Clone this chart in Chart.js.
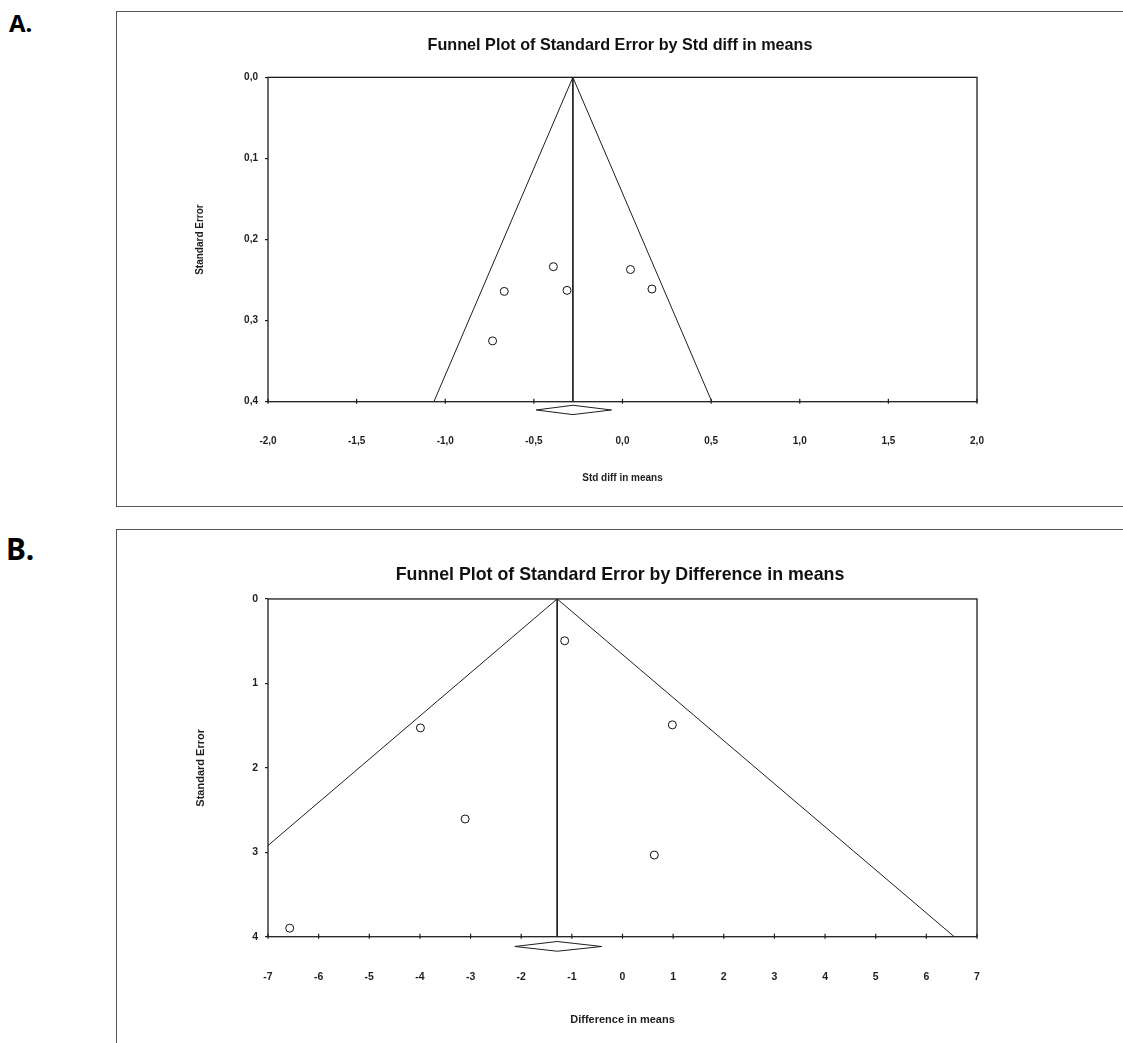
<!DOCTYPE html>
<html><head><meta charset="utf-8">
<script src="https://cdn.jsdelivr.net/npm/chart.js@4.4.1/dist/chart.umd.min.js"></script>
<style>
html,body{margin:0;padding:0;background:#fff;overflow:hidden;width:1123px;height:1043px;}
.lbl{position:absolute;font-family:"Noto Sans","Open Sans",sans-serif;font-weight:700;color:#000;line-height:1;}
.box{position:absolute;border:1px solid #555;box-sizing:content-box;}
canvas{position:absolute;}
</style></head><body>
<div class="lbl" style="left:9px;top:11px;font-size:24px">A.</div>
<div class="lbl" style="left:6px;top:534px;font-size:30px">B.</div>
<div class="box" style="left:116px;top:11px;width:1100px;height:494px;"></div>
<div class="box" style="left:116px;top:529px;width:1100px;height:600px;"></div>
<canvas id="ca" width="1006" height="494" style="left:117px;top:12px;width:1006px;height:494px"></canvas>
<canvas id="cb" width="1006" height="513" style="left:117px;top:530px;width:1006px;height:513px"></canvas>
<script>
// ---------- Panel A data ----------
const titleA = "Funnel Plot of Standard Error by Std diff in means";
const xTitleA = "Std diff in means";
const yTitleA = "Standard Error";
const xTickLabelsA = ["-2,0","-1,5","-1,0","-0,5","0,0","0,5","1,0","1,5","2,0"];
const yTickLabelsA = ["0,0","0,1","0,2","0,3","0,4"];
const studyEffectA = [-0.39, -0.667, -0.313, -0.733, 0.045, 0.166];
const studySEA     = [0.2335, 0.264, 0.2627, 0.325, 0.237, 0.261];
const summaryA = -0.28;
const funnelXA = [-1.064, -0.28, 0.504];
const funnelYA = [0.4, 0, 0.4];
const diamondXA = [-0.487, -0.28, -0.062, -0.28, -0.487];
const diamondYA = [0.4102, 0.4044, 0.4102, 0.4159, 0.4102];

// ---------- Panel B data ----------
const titleB = "Funnel Plot of Standard Error by Difference in means";
const xTitleB = "Difference in means";
const yTitleB = "Standard Error";
const xTickLabelsB = ["-7","-6","-5","-4","-3","-2","-1","0","1","2","3","4","5","6","7"];
const yTickLabelsB = ["0","1","2","3","4"];
const studyEffectB = [-1.142, -3.99, -3.107, -6.571, 0.984, 0.628];
const studySEB     = [0.495, 1.527, 2.606, 3.899, 1.491, 3.033];
const summaryB = -1.29;
const funnelXB = [-7, -1.29, 6.55];
const funnelYB = [2.92, 0, 4];
const diamondXB = [-2.126, -1.29, -0.411, -1.29, -2.126];
const diamondYB = [4.116, 4.057, 4.116, 4.172, 4.116];

const FONT = "'Liberation Sans', Arial, sans-serif";
const INK = '#1e1e1e';

const framePlugin = {
  id: 'frame',
  afterDraw(chart) {
    const {ctx, chartArea: a, scales} = chart;
    ctx.save();
    ctx.strokeStyle = INK;
    ctx.lineWidth = 1.3;
    ctx.strokeRect(a.left, a.top, a.right - a.left, a.bottom - a.top);
    const xs = scales.x;
    ctx.lineWidth = 1.2;
    xs.ticks.forEach((t, i) => {
      const px = xs.getPixelForTick(i);
      ctx.beginPath();
      ctx.moveTo(px, a.bottom - 3);
      ctx.lineTo(px, a.bottom + 2);
      ctx.stroke();
    });
    ctx.restore();
  }
};

function pts(xs, ys) { return xs.map((x, i) => ({x: x, y: ys[i]})); }
function labelFor(list, min, step) {
  return (v) => list[Math.round((v - min) / step)];
}

function makeChart(id, cfg) {
  const lineStyle = {showLine: true, borderColor: INK, borderWidth: 1, pointRadius: 0, fill: false, tension: 0};
  new Chart(document.getElementById(id), {
    type: 'scatter',
    data: {
      datasets: [
        {data: pts(cfg.effect, cfg.se), pointRadius: 4, pointBorderWidth: 1,
         pointBorderColor: '#111', pointBackgroundColor: '#fff', borderColor: '#111', backgroundColor: '#fff'},
        Object.assign({data: pts(cfg.diamondX, cfg.diamondY), clip: false}, lineStyle),
        Object.assign({data: pts([cfg.summary, cfg.summary], [cfg.yMin, cfg.yMax])}, lineStyle),
        Object.assign({data: pts(cfg.funnelX, cfg.funnelY)}, lineStyle)
      ]
    },
    options: {
      responsive: false,
      animation: false,
      events: [],
      layout: {padding: 0},
      plugins: {
        legend: {display: false},
        tooltip: {enabled: false},
        title: {display: true, text: cfg.title, color: '#111',
                font: {family: FONT, size: cfg.titleSize, weight: 'bold'},
                padding: {top: cfg.titlePadTop, bottom: cfg.titlePadBottom}}
      },
      scales: {
        x: {
          type: 'linear', min: cfg.xMin, max: cfg.xMax,
          grid: {display: false, drawTicks: false},
          border: {display: false},
          ticks: {stepSize: cfg.xStep, padding: cfg.xTickPad, color: INK,
                  font: {family: FONT, size: cfg.tickSize, weight: 'bold'},
                  maxRotation: 0, autoSkip: false,
                  callback: labelFor(cfg.xLabels, cfg.xMin, cfg.xStep)},
          title: {display: true, text: cfg.xTitle, color: INK,
                  font: {family: FONT, size: cfg.axisTitleSize, weight: 'bold'},
                  padding: {top: 0, bottom: cfg.xTitlePadBottom}},
          afterFit: (s) => { s.height = cfg.xAxisHeight; }
        },
        y: {
          type: 'linear', reverse: true, min: cfg.yMin, max: cfg.yMax,
          grid: {drawOnChartArea: false, drawTicks: true, tickLength: 3, color: INK, lineWidth: 1.2},
          border: {display: false},
          ticks: {stepSize: cfg.yStep, padding: 7, color: INK,
                  font: {family: FONT, size: cfg.tickSize, weight: 'bold'},
                  autoSkip: false,
                  callback: labelFor(cfg.yLabels, cfg.yMin, cfg.yStep)},
          title: {display: true, text: cfg.yTitle, color: INK,
                  font: {family: FONT, size: cfg.axisTitleSize, weight: 'bold'},
                  padding: {top: 77, bottom: 0}},
          afterFit: (s) => { s.width = 151; }
        },
        yRight: {
          type: 'linear', position: 'right', reverse: true, min: cfg.yMin, max: cfg.yMax,
          grid: {display: false, drawTicks: false},
          border: {display: false},
          ticks: {display: false},
          afterFit: (s) => { s.width = 146; }
        }
      }
    },
    plugins: [framePlugin]
  });
}

makeChart('ca', {
  title: titleA, titleSize: 16.2, titlePadTop: 24.3, titlePadBottom: 21.6,
  xTitle: xTitleA, yTitle: yTitleA, xLabels: xTickLabelsA, yLabels: yTickLabelsA,
  effect: studyEffectA, se: studySEA, summary: summaryA,
  funnelX: funnelXA, funnelY: funnelYA, diamondX: diamondXA, diamondY: diamondYA,
  xMin: -2, xMax: 2, xStep: 0.5, yMin: 0, yMax: 0.4, yStep: 0.1,
  tickSize: 10, axisTitleSize: 10, xTickPad: 33.3, xTitlePadBottom: 22, xAxisHeight: 104.3
});

makeChart('cb', {
  title: titleB, titleSize: 17.8, titlePadTop: 34.3, titlePadBottom: 13.3,
  xTitle: xTitleB, yTitle: yTitleB, xLabels: xTickLabelsB, yLabels: yTickLabelsB,
  effect: studyEffectB, se: studySEB, summary: summaryB,
  funnelX: funnelXB, funnelY: funnelYB, diamondX: diamondXB, diamondY: diamondYB,
  xMin: -7, xMax: 7, xStep: 1, yMin: 0, yMax: 4, yStep: 1,
  tickSize: 10.5, axisTitleSize: 11, xTickPad: 34, xTitlePadBottom: 16.7, xAxisHeight: 106.3
});
</script>
</body></html>
